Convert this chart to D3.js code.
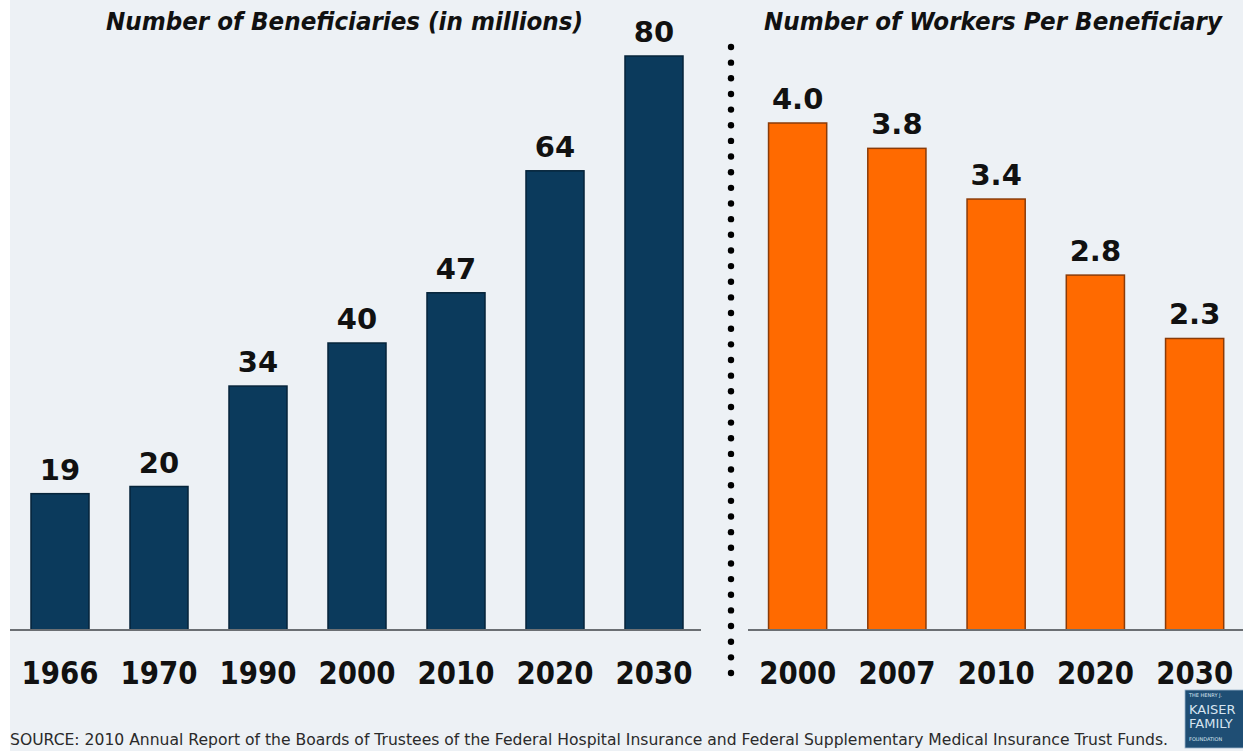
<!DOCTYPE html>
<html>
<head>
<meta charset="utf-8">
<script src="https://cdn.jsdelivr.net/npm/d3@7"></script>
<style>
  html, body { margin: 0; padding: 0; background: #ffffff; }
  svg { display: block; }
  text { font-family: "DejaVu Sans", Verdana, sans-serif; fill: #111; }
</style>
</head>
<body>
<svg id="chart" width="1243" height="751"></svg>
<script>
// Medicare beneficiaries (millions) by year
const beneficiaryYears = ["1966", "1970", "1990", "2000", "2010", "2020", "2030"];
const beneficiaryValues = [19, 20, 34, 40, 47, 64, 80];

// Workers per beneficiary by year
const workerYears = ["2000", "2007", "2010", "2020", "2030"];
const workerValues = [4.0, 3.8, 3.4, 2.8, 2.3];

const leftTitle = "Number of Beneficiaries (in millions)";
const rightTitle = "Number of Workers Per Beneficiary";
const sourceNote = "SOURCE: 2010 Annual Report of the Boards of Trustees of the Federal Hospital Insurance and Federal Supplementary Medical Insurance Trust Funds.";

const svg = d3.select("#chart");
const W = 1243, H = 751;
const baseY = 630;

// panel background
svg.append("rect").attr("x", 10).attr("y", 0).attr("width", W - 10).attr("height", H)
  .attr("fill", "#edf1f5");

// scales
const xLeft = d3.scaleBand().domain(beneficiaryYears).range([10.5, 703.5])
  .paddingInner(0.414).paddingOuter(0.207);
const yLeft = d3.scaleLinear().domain([0, 80]).range([baseY, 56]);

const xRight = d3.scaleBand().domain(workerYears).range([748, 1244.25])
  .paddingInner(0.414).paddingOuter(0.207);
const yRight = d3.scaleLinear().domain([0, 4]).range([baseY, 123]);

// titles
svg.append("text").attr("x", 106).attr("y", 30)
  .attr("font-size", 25).attr("font-weight", "bold").attr("font-style", "italic")
  .attr("textLength", 477).attr("lengthAdjust", "spacingAndGlyphs")
  .text(leftTitle);
svg.append("text").attr("x", 764).attr("y", 30)
  .attr("font-size", 25).attr("font-weight", "bold").attr("font-style", "italic")
  .attr("textLength", 458).attr("lengthAdjust", "spacingAndGlyphs")
  .text(rightTitle);

// bars with value labels and category labels
function drawBars(g, cats, vals, x, y, fill, edge, fmt) {
  const data = cats.map((c, i) => ({ c, v: vals[i] }));
  g.selectAll("rect.bar").data(data).join("rect").attr("class", "bar")
    .attr("x", d => x(d.c)).attr("width", x.bandwidth())
    .attr("y", d => y(d.v)).attr("height", d => y(0) - y(d.v))
    .attr("fill", fill).attr("stroke", edge).attr("stroke-width", 1.5);
  g.selectAll("text.val").data(data).join("text").attr("class", "val")
    .attr("x", d => x(d.c) + x.bandwidth() / 2).attr("y", d => y(d.v) - 14)
    .attr("text-anchor", "middle").attr("font-size", 29).attr("font-weight", "bold")
    .text(d => fmt(d.v));
  g.selectAll("text.cat").data(data).join("text").attr("class", "cat")
    .attr("x", d => x(d.c) + x.bandwidth() / 2 - 38.5).attr("y", 684)
    .attr("font-size", 32).attr("font-weight", "bold")
    .attr("textLength", 77).attr("lengthAdjust", "spacingAndGlyphs")
    .text(d => d.c);
}

const gLeft = svg.append("g");
drawBars(gLeft, beneficiaryYears, beneficiaryValues, xLeft, yLeft, "#0b3a5c", "#06243a", d3.format("d"));
const gRight = svg.append("g");
drawBars(gRight, workerYears, workerValues, xRight, yRight, "#ff6a00", "#8a3b08", d3.format(".1f"));

// baselines
svg.append("line").attr("x1", 10).attr("x2", 701).attr("y1", baseY).attr("y2", baseY)
  .attr("stroke", "#6b6f73").attr("stroke-width", 2);
svg.append("line").attr("x1", 748).attr("x2", W).attr("y1", baseY).attr("y2", baseY)
  .attr("stroke", "#6b6f73").attr("stroke-width", 2);

// dotted divider between panels
const dotYs = d3.range(47, 674, 15.65);
svg.append("g").selectAll("circle").data(dotYs).join("circle")
  .attr("cx", 731).attr("cy", d => d).attr("r", 3.2).attr("fill", "#000");

// source note
svg.append("text").attr("x", 10).attr("y", 745)
  .attr("font-size", 15).style("fill", "#2a2a2a")
  .attr("textLength", 1158).attr("lengthAdjust", "spacingAndGlyphs")
  .text(sourceNote);

// foundation logo block
const logo = svg.append("g");
logo.append("rect").attr("x", 1185).attr("y", 690).attr("width", 70).attr("height", 58)
  .attr("fill", "#1f4e74").attr("stroke", "#9db6cc").attr("stroke-width", 0.8);
const logoText = [
  { t: "THE HENRY J.", y: 697, s: 5 },
  { t: "KAISER", y: 714, s: 13 },
  { t: "FAMILY", y: 728, s: 13 },
  { t: "FOUNDATION", y: 741, s: 5 }
];
logo.selectAll("text").data(logoText).join("text")
  .attr("x", 1189).attr("y", d => d.y).attr("font-size", d => d.s)
  .attr("font-family", "'Liberation Serif', 'DejaVu Serif', serif")
  .style("fill", "#d6e4f0")
  .text(d => d.t);
</script>
</body>
</html>
